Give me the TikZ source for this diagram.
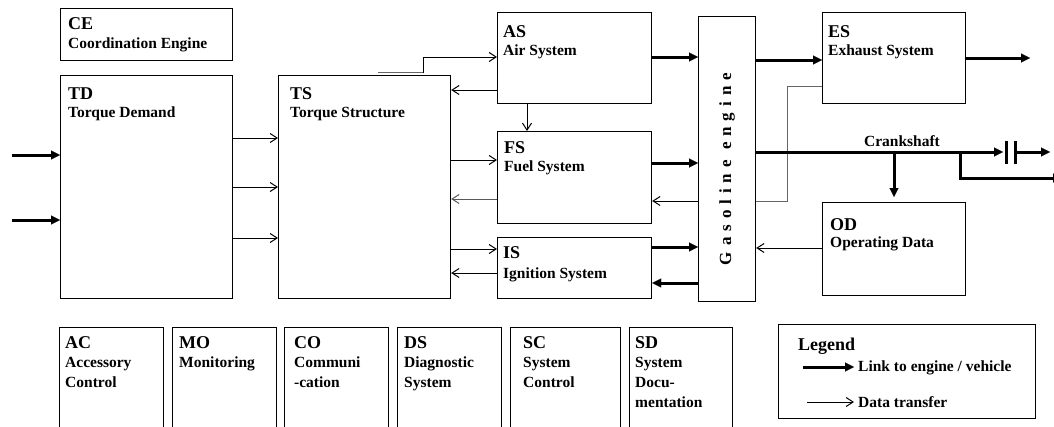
\documentclass[tikz,border=0pt]{standalone}
\usepackage{fontspec}
\setmainfont{Liberation Serif}
\newfontfamily\spacedfont[LetterSpace=35]{Liberation Serif}
\usetikzlibrary{arrows.meta,calc}
\tikzset{
  box/.style={draw, line width=1.2pt, anchor=north west, inner sep=0pt},
  ttl/.style={font=\bfseries\fontsize{18}{20}\selectfont, anchor=base west, inner sep=0pt},
  sub/.style={font=\bfseries\fontsize{15.5}{19}\selectfont, anchor=base west, inner sep=0pt},
  thk/.style={line width=3pt, -{Triangle[length=9pt,width=9pt,line width=0.1pt]}},
  thn/.style={line width=1pt, -{Straight Barb[length=7pt,width=9pt]}},
  grayline/.style={line width=1pt, draw=black!60},
}
\newcommand\BoxTitle[4]{\node[ttl] at ([shift={(#2pt,-#3pt)}]#1.north west) {#4};}
\newcommand\BoxLine[4]{\node[sub] at ([shift={(#2pt,-#3pt)}]#1.north west) {#4};}
\begin{document}
\begin{tikzpicture}[x=1pt,y=-1pt]
\useasboundingbox (0,0) rectangle (1054,426);
\clip (0,0) rectangle (1054,426);

% --- boxes ---
\node[box, minimum width=172pt, minimum height=52pt] (ce) at (60,8) {};
\BoxTitle{ce}{8}{21}{CE}
\BoxLine{ce}{8}{40}{Coordination Engine}

\node[box, minimum width=172pt, minimum height=223pt] (td) at (60,75) {};
\BoxTitle{td}{8}{24}{TD}
\BoxLine{td}{8}{42}{Torque Demand}

\node[box, minimum width=172pt, minimum height=223pt] (ts) at (278,75) {};
\BoxTitle{ts}{12}{24}{TS}
\BoxLine{ts}{12}{42}{Torque Structure}

\node[box, minimum width=154pt, minimum height=91pt] (as) at (497,12) {};
\BoxTitle{as}{6}{25}{AS}
\BoxLine{as}{6}{43}{Air System}

\node[box, minimum width=154pt, minimum height=92pt] (fs) at (497,131) {};
\BoxTitle{fs}{7}{22}{FS}
\BoxLine{fs}{7}{40}{Fuel System}

\node[box, minimum width=154pt, minimum height=61pt] (is) at (497,237) {};
\BoxTitle{is}{6}{21}{IS}
\BoxLine{is}{6}{41}{Ignition System}

\node[box, minimum width=57pt, minimum height=285pt] (eng) at (698,16) {};
\node[font=\spacedfont\bfseries\fontsize{17}{19}\selectfont, rotate=90, inner sep=0pt] (engt) at (727,169) {Gasoline engine};

\node[box, minimum width=143pt, minimum height=91pt] (es) at (822,12) {};
\BoxTitle{es}{6}{25}{ES}
\BoxLine{es}{6}{43}{Exhaust System}

\node[box, minimum width=143pt, minimum height=93pt] (od) at (822,202) {};
\BoxTitle{od}{8}{28}{OD}
\BoxLine{od}{8}{45}{Operating Data}

% bottom row
\node[box, minimum width=104pt, minimum height=120pt] (ac) at (59,327) {};
\BoxTitle{ac}{6}{21}{AC}
\BoxLine{ac}{6}{40}{Accessory}
\BoxLine{ac}{6}{60}{Control}

\node[box, minimum width=104pt, minimum height=120pt] (mo) at (172,327) {};
\BoxTitle{mo}{7}{21}{MO}
\BoxLine{mo}{7}{40}{Monitoring}

\node[box, minimum width=104pt, minimum height=120pt] (co) at (284,327) {};
\BoxTitle{co}{10}{21}{CO}
\BoxLine{co}{10}{40}{Communi}
\BoxLine{co}{10}{60}{-cation}

\node[box, minimum width=104pt, minimum height=120pt] (ds) at (397,327) {};
\BoxTitle{ds}{7}{21}{DS}
\BoxLine{ds}{7}{40}{Diagnostic}
\BoxLine{ds}{7}{60}{System}

\node[box, minimum width=110pt, minimum height=120pt] (sc) at (510,327) {};
\BoxTitle{sc}{13}{21}{SC}
\BoxLine{sc}{13}{40}{System}
\BoxLine{sc}{13}{60}{Control}

\node[box, minimum width=103pt, minimum height=120pt] (sd) at (629,327) {};
\BoxTitle{sd}{6}{21}{SD}
\BoxLine{sd}{6}{40}{System}
\BoxLine{sd}{6}{60}{Docu-}
\BoxLine{sd}{6}{80}{mentation}

% legend
\node[box, line width=1pt, minimum width=257pt, minimum height=94pt] (leg) at (778,324) {};
\node[ttl] (legt) at (798,350) {Legend};
\node[sub] (lk) at (858,371) {Link to engine / vehicle};
\node[sub] (dt) at (858,407) {Data transfer};
\coordinate (l1) at (803,367);
\coordinate (l2) at (807,402);
\draw[thk] (l1) -- ([xshift=-4pt]lk.west |- l1);
\draw[thn] (l2) -- ([xshift=-4pt]dt.west |- l2);

% --- connectors ---
\coordinate (in1) at (12,155);
\coordinate (in2) at (12,220);
\draw[thk] (in1) -- (in1 -| td.west);
\draw[thk] (in2) -- (in2 -| td.west);

\draw[thn] (td.east |- 0,138) -- (ts.west |- 0,138);
\draw[thn] (td.east |- 0,187) -- (ts.west |- 0,187);
\draw[thn] (td.east |- 0,238) -- (ts.west |- 0,238);

\coordinate (tsa) at (378,72.5);
\coordinate (tsb) at (423,72.5);
\draw[line width=1.6pt, draw=black!60] (tsa) -- (tsb);
\draw[thn] (tsb) |- (as.west |- 0,57);
\draw[thn] (as.west |- 0,90) -- (ts.east |- 0,90);
\draw[thn] (527,0 |- as.south) -- (527,0 |- fs.north);
\draw[thn] (ts.east |- 0,160) -- (fs.west |- 0,160);
\draw[thn, draw=black!65] (fs.west |- 0,199) -- (ts.east |- 0,199);
\draw[thn] (ts.east |- 0,249) -- (is.west |- 0,249);
\draw[thn] (is.west |- 0,273) -- (ts.east |- 0,273);

\draw[thk] (as.east |- 0,57) -- (eng.west |- 0,57);
\draw[thk] (fs.east |- 0,163) -- (eng.west |- 0,163);
\draw[thk] (is.east |- 0,247) -- (eng.west |- 0,247);
\draw[thk] (eng.west |- 0,283) -- (is.east |- 0,283);
\draw[thn] (eng.west |- 0,201) -- (fs.east |- 0,201);

\draw[thk] (eng.east |- 0,60) -- (es.west |- 0,60);
\coordinate (esout) at (1030,58);
\draw[thk] (es.east |- esout) -- (esout);
\coordinate (bend) at (787,201);
\draw[grayline] (es.west |- 0,86) -| (bend) -- (eng.east |- bend);

% crankshaft
\coordinate (ck1) at (1003,152);
\coordinate (ck2) at (1016,152);
\coordinate (ckend) at (1050,152);
\coordinate (br) at (960,152);
\coordinate (brend) at (1062,178);
\coordinate (dn) at (894,152);
\draw[thk] (eng.east |- ck1) -- (ck1);
\draw[line width=3pt] (1006,141) -- (1006,164);
\draw[line width=3pt] (1015,141) -- (1015,164);
\draw[thk] (ck2) -- (ckend);
\draw[thk] (br) |- (brend);
\draw[thk] (dn) -- ([yshift=5pt]dn |- od.north);
\node[sub, anchor=base] (ckl) at (902,146) {Crankshaft};
\draw[thn] (od.west |- 0,248) -- (eng.east |- 0,248);
\end{tikzpicture}
\end{document}
